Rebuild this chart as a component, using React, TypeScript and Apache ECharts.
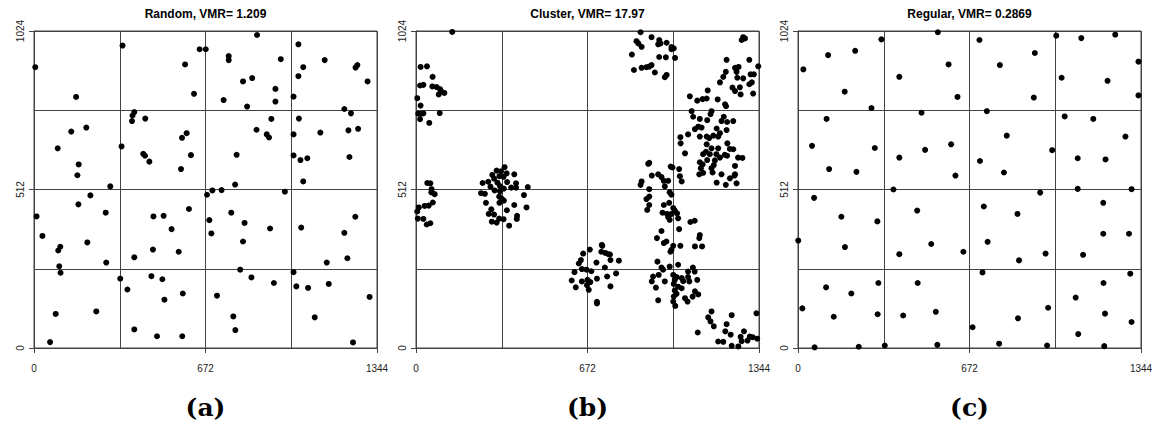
import React, { useEffect, useRef } from "react";
import * as echarts from "echarts";

const panelTitles = ["Random, VMR= 1.209", "Cluster, VMR= 17.97", "Regular, VMR= 0.2869"];
const panelLetters = ["(a)", "(b)", "(c)"];
const xMax = 1344;
const yMax = 1024;
const xLabelTicks = [0, 672, 1344];
const yLabelTicks = [0, 512, 1024];

const randomPoints: number[][] = [
  [5, 907], [165, 811], [347, 977], [592, 916], [649, 965], [673, 965], [627, 821], [763, 943], [763, 930], [874, 1011],
  [967, 933], [819, 861], [855, 872], [743, 801], [835, 780], [946, 837], [946, 796], [1036, 981], [1055, 907], [1036, 878],
  [1017, 812], [1139, 930], [1267, 914], [1260, 906], [1307, 861],
  [393, 762], [386, 751], [384, 733], [436, 741], [205, 712], [146, 699], [93, 645], [175, 593], [170, 558], [299, 522],
  [221, 493], [343, 651], [428, 627], [435, 621], [452, 602], [580, 679], [598, 694], [615, 623], [576, 578], [930, 740],
  [872, 705], [912, 690], [921, 680], [794, 624], [788, 528], [735, 510], [699, 509], [678, 495], [983, 505], [1038, 741],
  [1017, 690], [1122, 696], [1216, 772], [1242, 758], [1232, 703], [1270, 708], [1017, 622], [1044, 607], [1071, 613],
  [1236, 617], [1055, 538],
  [10, 425], [33, 362], [174, 464], [209, 341], [95, 315], [103, 327], [281, 437], [283, 276], [99, 264], [104, 243],
  [85, 110], [63, 19], [244, 118], [468, 425], [508, 427], [539, 384], [607, 449], [466, 318], [567, 311], [393, 293],
  [338, 224], [366, 189], [460, 232], [503, 222], [511, 156], [583, 176], [393, 60], [482, 38], [581, 38], [687, 413],
  [695, 370], [773, 437], [825, 404], [819, 344], [925, 386], [808, 253], [852, 228], [940, 210], [717, 169], [781, 102],
  [789, 58], [1047, 389], [1216, 372], [1259, 424], [1147, 276], [1228, 290], [1017, 245], [1028, 199], [1074, 194],
  [1155, 207], [1100, 99], [1315, 165], [1250, 18],
];

const clusterPoints: number[][] = [
  // top-left
  [142, 1021], [18, 908], [43, 910], [65, 876], [16, 848], [29, 850], [64, 845], [81, 843], [94, 836], [111, 824],
  [89, 819], [99, 829], [5, 807], [18, 783], [9, 757], [29, 758], [18, 756], [16, 739], [93, 759], [52, 727],
  // left middle
  [44, 533], [56, 532], [61, 513], [60, 503], [73, 497], [66, 470], [50, 460], [34, 459], [11, 454], [5, 441],
  [7, 418], [29, 417], [42, 399], [56, 403],
  // centre
  [347, 584], [316, 573], [333, 571], [355, 564], [299, 559], [385, 561], [327, 555], [343, 553], [306, 547], [283, 537],
  [261, 533], [319, 534], [357, 536], [392, 532], [292, 521], [329, 523], [373, 518], [392, 518], [438, 520], [255, 500],
  [270, 498], [308, 509], [329, 506], [344, 515], [326, 489], [336, 482], [344, 476], [327, 469], [423, 494], [274, 469],
  [385, 462], [433, 454], [295, 448], [356, 445], [285, 433], [306, 431], [326, 418], [343, 416], [396, 427], [395, 417],
  [297, 408], [316, 405], [365, 395],
  // bottom
  [681, 318], [728, 333], [730, 330], [726, 311], [742, 307], [754, 303], [760, 302], [762, 284], [795, 282], [655, 305],
  [646, 284], [638, 273], [707, 276], [650, 255], [621, 245], [668, 253], [687, 248], [740, 260], [784, 241], [610, 218],
  [650, 215], [672, 220], [683, 213], [709, 224], [749, 231], [626, 196], [670, 203], [677, 188], [762, 199], [709, 149],
  [709, 144],
  // top
  [880, 1020], [864, 991], [871, 984], [884, 973], [923, 1004], [953, 995], [958, 984], [949, 981], [982, 986], [1001, 972],
  [1010, 968], [1001, 965], [846, 948], [953, 940], [979, 939], [1015, 937], [854, 898], [884, 905], [903, 907], [923, 914],
  [914, 909], [936, 890], [982, 882], [975, 875],
  // right top
  [1282, 1004], [1289, 1000], [1276, 995], [1217, 931], [1306, 931], [1341, 910], [1250, 905], [1264, 908], [1256, 892],
  [1214, 892], [1204, 876], [1259, 873], [1282, 871], [1311, 884], [1324, 884], [1316, 858], [1306, 852], [1191, 858],
  [1240, 841], [1269, 842], [1250, 830], [1272, 819], [1321, 822], [1143, 832], [1073, 813], [1102, 799], [1123, 804],
  [1139, 806], [1182, 803], [1211, 787], [1215, 781],
  // right middle
  [1080, 765], [1086, 747], [1112, 740], [1158, 765], [1154, 755], [1206, 747], [1197, 733], [1219, 730], [1243, 733],
  [1141, 736], [1106, 715], [1119, 712], [1093, 707], [1178, 709], [1217, 704], [1191, 694], [1165, 686], [1184, 683],
  [1149, 678], [1139, 683], [1112, 683], [1066, 690], [1036, 681], [1037, 661], [1139, 658], [1220, 661], [1230, 643],
  [1243, 642], [1184, 645], [1158, 645], [1136, 634], [1125, 626], [1151, 626], [1177, 626], [1210, 624], [1219, 621],
  [1054, 629], [1262, 615], [1279, 614], [1112, 600], [1123, 593], [1141, 607], [1171, 606], [1167, 591], [1191, 615],
  [1116, 581], [1158, 581], [1250, 588], [1031, 578], [998, 586], [1005, 583], [1034, 555], [1041, 538], [1110, 561],
  [1125, 566], [1162, 567], [1197, 561], [1230, 548], [1250, 561], [1248, 557], [1256, 532], [1214, 527], [1178, 534],
  // strip
  [914, 598], [910, 595], [924, 557], [949, 561], [962, 552], [971, 540], [988, 540], [884, 538], [880, 527], [975, 522],
  [914, 513], [994, 503], [1001, 495], [914, 489],
  [903, 481], [914, 462], [906, 446], [971, 462], [992, 469], [1008, 452], [1014, 444], [966, 437], [984, 433], [1001, 433],
  [1023, 435], [988, 423], [994, 414], [1027, 419], [1075, 407], [1092, 411], [1031, 384], [962, 378], [944, 355], [971, 339],
  [981, 344], [1008, 330], [1001, 317], [997, 311], [1036, 330], [1112, 365], [1110, 355], [1093, 328], [1121, 328],
  [946, 279], [962, 260], [968, 253], [994, 263], [1027, 269], [1085, 260], [1066, 247], [1092, 247], [929, 231], [951, 236],
  [924, 215], [940, 195], [975, 215], [1008, 236], [1021, 229], [1041, 226], [1014, 220], [1047, 216], [1066, 229],
  [1071, 215], [1102, 220], [1010, 207], [1027, 198], [1041, 193], [1014, 186], [1010, 166], [1021, 175], [1008, 150],
  [1016, 136], [1054, 161], [1064, 150], [1084, 166], [1093, 183], [1106, 173], [949, 154],
  // bottom right
  [1158, 118], [1145, 99], [1154, 86], [1167, 70], [1237, 106], [1217, 77], [1334, 112], [1212, 54], [1233, 43], [1285, 54],
  [1272, 36], [1308, 37], [1319, 35], [1337, 30], [1299, 24], [1276, 22], [1184, 21], [1204, 20], [1237, 7], [1263, 5],
  [1104, 50],
];

const regularPoints: number[][] = [
  [327, 997], [224, 960], [118, 946], [21, 900], [183, 828], [288, 775], [548, 1020], [590, 916], [397, 876], [625, 811],
  [711, 995], [928, 953], [791, 914], [924, 809], [1012, 1009], [1110, 1001], [1243, 1012], [1334, 925], [1033, 873],
  [1213, 863], [1334, 816],
  [112, 740], [55, 653], [301, 646], [122, 578], [229, 569], [484, 760], [498, 640], [600, 658], [397, 615], [617, 557],
  [740, 765], [818, 686], [996, 639], [713, 604], [807, 567], [1045, 748], [1157, 740], [1283, 683], [1096, 613],
  [1205, 609], [374, 512], [949, 502], [1096, 514], [1307, 513],
  [63, 485], [170, 424], [311, 409], [1, 347], [184, 326], [467, 444], [522, 336], [397, 303], [648, 311], [728, 457],
  [860, 433], [743, 343], [866, 283], [970, 305], [1196, 469], [1196, 369], [1297, 369], [1117, 301],
  [110, 196], [209, 176], [315, 210], [17, 128], [140, 101], [312, 109], [65, 2], [238, 4], [340, 8], [469, 210],
  [412, 105], [540, 117], [546, 10], [723, 244], [684, 67], [862, 96], [980, 130], [788, 14], [976, 8], [1302, 240],
  [1197, 210], [1088, 163], [1203, 111], [1307, 84], [1098, 45], [1200, 6],
];

const panelData = [randomPoints, clusterPoints, regularPoints];
const gridLefts = [34, 416, 798];
const gridWidth = 343;
const gridTop = 31;
const gridHeight = 317;

const lineColor = "#444";
const sans = "Liberation Sans, Arial, Helvetica, sans-serif";

export default function App() {
  const ref = useRef<HTMLDivElement>(null);
  useEffect(() => {
    if (!ref.current) return;
    const chart = echarts.init(ref.current, undefined, { renderer: "svg" });
    const grids: any[] = [];
    const xAxes: any[] = [];
    const yAxes: any[] = [];
    const series: any[] = [];
    const graphics: any[] = [];
    panelData.forEach((pts, i) => {
      grids.push({
        left: gridLefts[i],
        top: gridTop,
        width: gridWidth,
        height: gridHeight,
        show: true,
        borderColor: lineColor,
        borderWidth: 1,
        backgroundColor: "transparent",
      });
      xAxes.push({
        gridIndex: i, type: "value", min: 0, max: xMax, interval: xMax / 4, position: "bottom",
        axisLine: { show: false }, axisTick: { show: false }, axisLabel: { show: false },
        splitLine: { show: true, lineStyle: { color: lineColor, width: 1 } },
      });
      xAxes.push({
        gridIndex: i, type: "value", min: 0, max: xMax, interval: xMax / 2, position: "bottom",
        axisLine: { show: true, onZero: false, lineStyle: { color: lineColor, width: 1 } },
        axisTick: { show: true, length: 5, lineStyle: { color: lineColor } },
        axisLabel: {
          show: true, fontSize: 10, margin: 15, color: "#222", fontFamily: sans,
          formatter: (v: number) => (xLabelTicks.includes(v) ? String(v) : ""),
        },
        splitLine: { show: false },
      });
      yAxes.push({
        gridIndex: i, type: "value", min: 0, max: yMax, interval: yMax / 4, position: "left",
        axisLine: { show: false }, axisTick: { show: false }, axisLabel: { show: false },
        splitLine: { show: true, lineStyle: { color: lineColor, width: 1 } },
      });
      yAxes.push({
        gridIndex: i, type: "value", min: 0, max: yMax, interval: yMax / 2, position: "left",
        axisLine: { show: true, onZero: false, lineStyle: { color: lineColor, width: 1 } },
        axisTick: { show: true, length: 5, lineStyle: { color: lineColor } },
        axisLabel: {
          show: true, fontSize: 10, margin: 9, rotate: 90, color: "#222", fontFamily: sans,
          formatter: (v: number) => (yLabelTicks.includes(v) ? String(v) : ""),
        },
        splitLine: { show: false },
      });
      series.push({
        type: "scatter",
        xAxisIndex: 2 * i,
        yAxisIndex: 2 * i,
        data: pts,
        symbol: "circle",
        symbolSize: 6,
        itemStyle: { color: "#000", opacity: 1 },
        silent: true,
      });
      const cx = gridLefts[i] + gridWidth / 2;
      graphics.push({
        type: "text", x: cx, y: 14,
        style: {
          text: panelTitles[i], fill: "#000", font: `bold 12px ${sans}`,
          fontSize: 12, fontWeight: "bold", fontFamily: sans,
          align: "center", verticalAlign: "middle", textAlign: "center", textVerticalAlign: "middle",
        },
      });
      graphics.push({
        type: "text", x: cx, y: 407,
        style: {
          text: panelLetters[i], fill: "#000", font: `bold 25px "DejaVu Serif", serif`,
          fontSize: 25, fontWeight: "bold", fontFamily: '"DejaVu Serif", serif',
          align: "center", verticalAlign: "middle", textAlign: "center", textVerticalAlign: "middle",
        },
      });
    });
    chart.setOption({
      animation: false,
      backgroundColor: "#fff",
      grid: grids,
      xAxis: xAxes,
      yAxis: yAxes,
      series,
      graphic: graphics,
    });
    return () => chart.dispose();
  }, []);
  return (
    <div
      ref={ref}
      style={{ position: "fixed", left: 0, top: 0, width: 1158, height: 432, background: "#fff" }}
    />
  );
}
